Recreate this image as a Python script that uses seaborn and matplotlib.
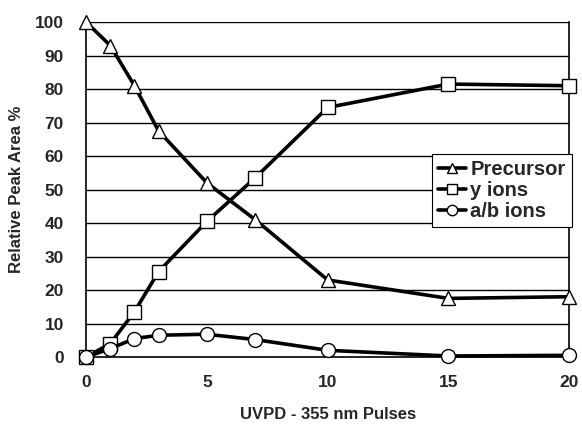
import matplotlib
matplotlib.use("Agg")
import matplotlib.pyplot as plt
import seaborn as sns
import pandas as pd

pulses = [0, 1, 2, 3, 5, 7, 10, 15, 20]
precursor = [100, 93, 81, 67.5, 52, 41, 23, 17.5, 18]
y_ions = [0, 4, 13.5, 25.5, 40.5, 53.5, 74.5, 81.5, 81]
ab_ions = [0, 2.5, 5.5, 6.5, 6.8, 5.2, 2, 0.3, 0.5]
series_names = ["Precursor", "y ions", "a/b ions"]
x_ticks = [0, 5, 10, 15, 20]
y_ticks = list(range(0, 101, 10))

df = pd.DataFrame({
    "x": pulses * 3,
    "value": precursor + y_ions + ab_ions,
    "series": [series_names[0]] * len(pulses) + [series_names[1]] * len(pulses) + [series_names[2]] * len(pulses),
})

sns.set_style("white")
plt.rcParams["font.family"] = ["Liberation Sans", "DejaVu Sans"]
plt.rcParams["font.weight"] = "bold"

fig = plt.figure(figsize=(5.82, 4.25), dpi=100)
ax = fig.add_axes([0.148, 0.16, 0.83, 0.788])

for v in y_ticks[1:]:
    ax.axhline(v, color="black", lw=1.0, zorder=0)

sns.lineplot(data=df, x="x", y="value", hue="series", style="series",
             palette={n: "black" for n in series_names},
             markers={"Precursor": "^", "y ions": "s", "a/b ions": "o"},
             dashes=False, lw=2.6, markersize=10, markerfacecolor="white",
             markeredgecolor="black", markeredgewidth=1.0, ax=ax, clip_on=False,
             legend=True, zorder=3)

ax.set_xlim(0, 20)
ax.set_ylim(0, 100)
ax.set_xticks(x_ticks)
ax.set_yticks(y_ticks)
ax.tick_params(axis="x", direction="out", length=4, width=1, pad=9, labelsize=12.5)
ax.tick_params(axis="y", length=0, pad=16, labelsize=12.5)
for lbl in ax.get_xticklabels() + ax.get_yticklabels():
    lbl.set_fontweight("bold")
ax.set_xlabel("UVPD - 355 nm Pulses", fontsize=12, fontweight="bold", labelpad=12)
ax.set_ylabel("Relative Peak Area %", fontsize=12, fontweight="bold", labelpad=8)

for s in ["left", "bottom", "right"]:
    ax.spines[s].set_visible(True)
    ax.spines[s].set_color("black")
    ax.spines[s].set_linewidth(1.2)
ax.spines["top"].set_visible(False)

leg = ax.legend(loc="upper right", bbox_to_anchor=(1.005, 0.605), frameon=True,
                fancybox=False, edgecolor="black", framealpha=1, fontsize=14.5,
                handlelength=1.4, handletextpad=0.2, borderpad=0.3, labelspacing=0.1,
                borderaxespad=0, markerscale=0.75)
leg.get_frame().set_linewidth(0.8)
for t in leg.get_texts():
    t.set_fontweight("bold")
leg.set_zorder(5)

fig.savefig("out.png", dpi=100)
